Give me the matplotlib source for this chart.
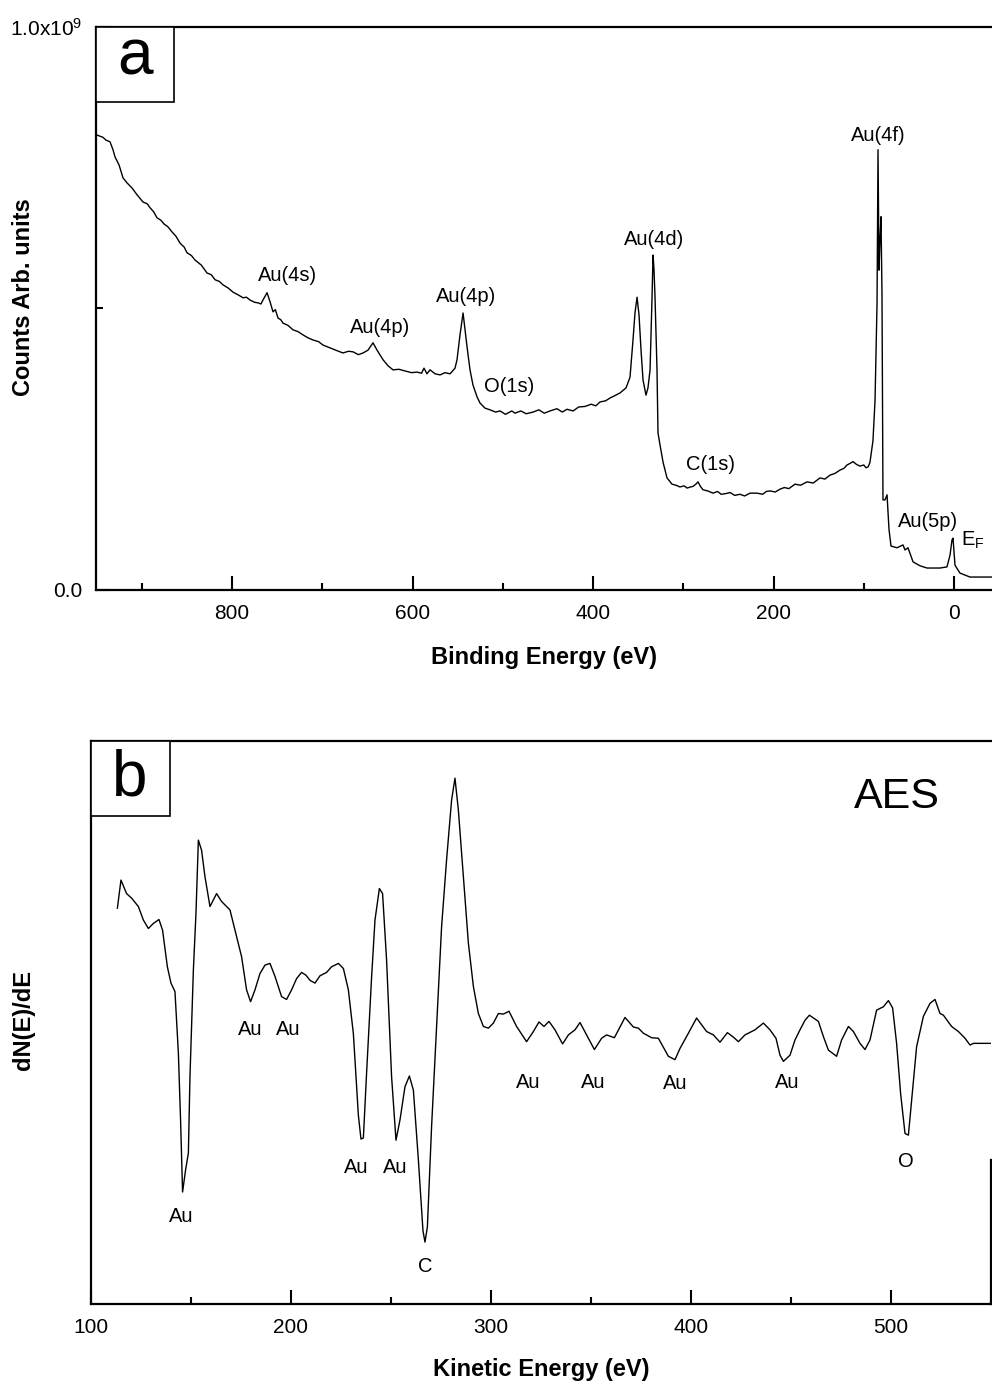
import matplotlib
matplotlib.use('Agg')
import matplotlib.pyplot as plt
import matplotlib.ticker as ticker
from matplotlib.patches import Rectangle
import numpy as np

plt.rcParams['font.family'] = ['Liberation Sans', 'DejaVu Sans']
plt.rcParams['mathtext.default'] = 'regular'

# --- panel a: XPS survey (binding energy in eV, counts in units of 1e9)
xps_be = [949.6, 946.3, 943.0, 939.6, 935.2, 931.9, 929.6, 925.2, 920.8, 916.3,
          910.8, 905.3, 898.6, 894.0, 890.9, 887.0, 883.1, 879.0, 875.3, 871.0,
          866.5, 862.0, 857.6, 853.0, 849.9, 845.0, 841.0, 834.0, 827.7, 823.0,
          818.8, 814.0, 810.0, 804.0, 798.9, 793.0, 787.8, 784.0, 780.1, 775.0,
          771.2, 768.0, 765.7, 761.2, 757.9, 754.6, 752.0, 749.0, 746.0, 743.5,
          738.0, 732.4, 727.0, 721.3, 716.0, 710.2, 704.0, 699.2, 693.0, 688.1,
          682.0, 677.0, 671.0, 665.9, 660.0, 654.8, 649.3, 643.8, 639.3, 632.7,
          627.0, 621.6, 615.0, 608.3, 601.0, 595.0, 590.0, 587.3, 584.0, 580.6,
          575.0, 569.5, 564.0, 558.4, 552.9, 550.7, 547.4, 544.0, 541.8, 539.6,
          536.3, 533.0, 528.5, 525.2, 519.7, 514.1, 508.0, 503.0, 497.0, 490.0,
          486.4, 480.0, 474.0, 466.5, 460.0, 454.0, 447.6, 440.0, 434.0, 428.8,
          422.0, 416.0, 408.9, 402.0, 397.0, 392.2, 386.0, 381.2, 376.0, 370.1,
          363.4, 359.0, 355.7, 353.5, 351.2, 349.0, 346.8, 344.6, 341.3, 339.1,
          336.8, 334.6, 333.5, 332.4, 331.3, 329.1, 328.0, 325.8, 322.4, 318.0,
          312.5, 308.0, 303.6, 299.0, 295.8, 292.0, 289.2, 286.0, 283.7, 281.0,
          278.1, 273.0, 267.0, 262.0, 258.0, 253.7, 248.0, 243.0, 237.1, 232.0,
          226.0, 218.3, 212.0, 208.0, 203.9, 198.0, 192.9, 188.0, 183.0, 176.2,
          170.0, 162.9, 156.0, 148.5, 143.0, 137.4, 132.0, 126.3, 122.0, 118.6,
          115.0, 111.9, 108.0, 104.2, 100.0, 97.5, 95.0, 93.1, 89.8, 87.5,
          85.3, 84.2, 83.1, 82.0, 80.9, 79.8, 78.7, 76.5, 74.2, 72.0,
          69.8, 63.2, 56.5, 54.3, 51.0, 45.4, 37.7, 29.9, 15.5, 7.8,
          4.4, 2.2, 1.1, -1.1, -6.6, -17.7, -28.8, -42.1]
xps_counts = [0.808, 0.806, 0.804, 0.799, 0.796, 0.782, 0.769, 0.755, 0.732, 0.723,
              0.714, 0.702, 0.689, 0.686, 0.679, 0.672, 0.661, 0.657, 0.650, 0.645,
              0.636, 0.628, 0.616, 0.609, 0.599, 0.594, 0.586, 0.577, 0.563, 0.560,
              0.551, 0.548, 0.542, 0.536, 0.529, 0.524, 0.519, 0.520, 0.515, 0.511,
              0.510, 0.508, 0.515, 0.528, 0.512, 0.494, 0.498, 0.483, 0.480, 0.474,
              0.470, 0.462, 0.459, 0.453, 0.448, 0.444, 0.441, 0.435, 0.431, 0.428,
              0.424, 0.421, 0.424, 0.423, 0.418, 0.421, 0.426, 0.439, 0.426, 0.409,
              0.398, 0.391, 0.392, 0.389, 0.386, 0.387, 0.385, 0.394, 0.384, 0.391,
              0.384, 0.382, 0.386, 0.384, 0.394, 0.409, 0.453, 0.492, 0.462, 0.432,
              0.391, 0.364, 0.343, 0.332, 0.323, 0.320, 0.316, 0.318, 0.312, 0.318,
              0.314, 0.318, 0.313, 0.316, 0.320, 0.314, 0.318, 0.322, 0.316, 0.321,
              0.318, 0.325, 0.326, 0.330, 0.327, 0.334, 0.336, 0.341, 0.345, 0.350,
              0.359, 0.378, 0.444, 0.492, 0.520, 0.488, 0.426, 0.373, 0.346, 0.359,
              0.391, 0.520, 0.595, 0.568, 0.520, 0.391, 0.279, 0.258, 0.227, 0.199,
              0.188, 0.186, 0.183, 0.185, 0.181, 0.183, 0.184, 0.188, 0.192, 0.184,
              0.178, 0.176, 0.172, 0.175, 0.170, 0.171, 0.173, 0.168, 0.170, 0.167,
              0.172, 0.172, 0.170, 0.175, 0.176, 0.174, 0.179, 0.182, 0.180, 0.188,
              0.186, 0.192, 0.190, 0.199, 0.197, 0.204, 0.207, 0.213, 0.216, 0.222,
              0.225, 0.228, 0.223, 0.220, 0.222, 0.217, 0.219, 0.227, 0.265, 0.337,
              0.508, 0.782, 0.568, 0.622, 0.663, 0.526, 0.160, 0.160, 0.169, 0.107,
              0.078, 0.075, 0.080, 0.071, 0.075, 0.050, 0.043, 0.039, 0.039, 0.041,
              0.062, 0.089, 0.092, 0.044, 0.030, 0.023, 0.023, 0.023]

xps_labels = ['Au(4s)', 'Au(4p)', 'Au(4p)', 'O(1s)', 'Au(4d)', 'C(1s)', 'Au(4f)', 'Au(5p)', 'E$_F$']
xps_label_x = [739, 636, 540.7, 493, 332.4, 270, 84, 28.8, -21]
xps_label_y = [0.558, 0.467, 0.522, 0.361, 0.622, 0.222, 0.808, 0.121, 0.089]

# --- panel b: AES derivative spectrum (kinetic energy in eV, arb. units)
aes_ke = [113.2, 115.0, 117.8, 120.3, 123.7, 126.2, 128.7, 131.2, 134.0, 135.8,
          138.2, 140.0, 142.0, 143.7, 144.8, 145.8, 147.3, 148.7, 149.5, 151.2,
          152.5, 153.7, 155.3, 157.0, 159.5, 162.8, 165.3, 169.5, 172.8, 175.3,
          177.8, 179.8, 182.0, 184.5, 187.0, 189.5, 192.0, 195.3, 197.8, 200.3,
          202.8, 205.3, 207.5, 209.5, 212.0, 214.5, 217.8, 220.3, 223.7, 226.2,
          228.7, 231.2, 233.7, 235.0, 236.2, 237.8, 240.3, 242.0, 244.2, 245.8,
          247.8, 250.3, 252.5, 254.5, 257.0, 259.2, 261.2, 263.7, 266.0, 267.0,
          268.2, 270.3, 272.8, 275.3, 277.8, 280.3, 282.0, 283.7, 286.2, 288.7,
          291.2, 293.7, 296.2, 298.7, 301.2, 303.7, 306.2, 309.0, 312.8, 317.8,
          321.2, 324.0, 326.5, 329.0, 332.0, 335.8, 338.7, 342.0, 344.5, 347.8,
          351.7, 355.3, 357.8, 361.7, 364.2, 367.0, 371.2, 373.7, 376.2, 380.3,
          383.7, 388.7, 392.0, 394.5, 398.7, 402.8, 407.8, 411.2, 414.5, 418.2,
          421.2, 423.7, 427.0, 432.0, 436.2, 439.5, 442.5, 444.5, 446.2, 449.5,
          452.0, 454.5, 457.0, 459.2, 463.7, 466.2, 468.7, 472.8, 475.3, 478.7,
          481.2, 484.5, 487.0, 489.5, 492.8, 496.2, 498.7, 500.8, 502.8, 504.8,
          507.0, 508.7, 510.3, 512.8, 516.2, 519.5, 522.0, 524.5, 526.2, 530.3,
          533.7, 537.0, 539.5, 541.2, 550.5]
aes_dnde = [0.703, 0.753, 0.729, 0.721, 0.706, 0.682, 0.667, 0.676, 0.683, 0.664,
            0.599, 0.570, 0.555, 0.446, 0.327, 0.199, 0.238, 0.268, 0.404, 0.593,
            0.694, 0.824, 0.806, 0.759, 0.706, 0.729, 0.715, 0.700, 0.653, 0.617,
            0.558, 0.537, 0.558, 0.587, 0.602, 0.605, 0.582, 0.546, 0.541, 0.558,
            0.578, 0.589, 0.584, 0.575, 0.570, 0.583, 0.589, 0.599, 0.605, 0.596,
            0.558, 0.480, 0.335, 0.293, 0.295, 0.410, 0.580, 0.682, 0.738, 0.729,
            0.611, 0.404, 0.291, 0.327, 0.386, 0.405, 0.380, 0.256, 0.130, 0.110,
            0.137, 0.315, 0.493, 0.670, 0.789, 0.895, 0.934, 0.877, 0.759, 0.641,
            0.564, 0.516, 0.493, 0.490, 0.499, 0.516, 0.515, 0.520, 0.493, 0.466,
            0.484, 0.501, 0.493, 0.502, 0.487, 0.462, 0.478, 0.487, 0.500, 0.478,
            0.452, 0.472, 0.478, 0.473, 0.490, 0.509, 0.492, 0.490, 0.481, 0.473,
            0.472, 0.440, 0.434, 0.454, 0.481, 0.508, 0.484, 0.478, 0.465, 0.482,
            0.474, 0.466, 0.478, 0.487, 0.499, 0.487, 0.472, 0.442, 0.431, 0.442,
            0.469, 0.487, 0.504, 0.513, 0.502, 0.475, 0.451, 0.440, 0.469, 0.493,
            0.484, 0.463, 0.452, 0.469, 0.522, 0.528, 0.539, 0.526, 0.463, 0.374,
            0.303, 0.300, 0.362, 0.457, 0.511, 0.534, 0.541, 0.516, 0.513, 0.493,
            0.484, 0.472, 0.460, 0.463, 0.463]

aes_labels = ['Au', 'Au', 'Au', 'Au', 'Au', 'C', 'Au', 'Au', 'Au', 'Au', 'O']
aes_label_x = [145, 179.5, 198.5, 232.5, 252, 267, 318.5, 351, 392, 448, 507.5]
aes_label_y = [0.155, 0.487, 0.487, 0.242, 0.242, 0.066, 0.394, 0.394, 0.391, 0.393, 0.254]

fig = plt.figure(figsize=(9.92, 13.83), dpi=100)

# ---------------- panel a
ax1 = fig.add_axes([0.0968, 0.5734, 0.9032, 0.4071])
ax1.plot(xps_be, np.array(xps_counts) * 1e9, color='black', lw=1.0)
ax1.set_xlim(950.7, -42.1)
ax1.set_ylim(0, 1e9)
ax1.xaxis.set_major_locator(ticker.MultipleLocator(200))
ax1.xaxis.set_minor_locator(ticker.MultipleLocator(100))
ax1.yaxis.set_major_locator(ticker.FixedLocator([0, 1e9]))
ax1.yaxis.set_minor_locator(ticker.FixedLocator([0.5e9]))
ax1.set_yticklabels(['0.0', '1.0x10$^9$'])
ax1.spines['right'].set_visible(False)
for s in ax1.spines.values():
    s.set_linewidth(1.6)
ax1.tick_params(which='both', direction='in', top=False, right=False, labelsize=15, pad=10, width=1.5)
ax1.tick_params(which='major', length=10)
ax1.tick_params(which='minor', length=5)
ax1.set_xlabel('Binding Energy (eV)', fontsize=17, fontweight='bold', labelpad=17)
ax1.set_ylabel('Counts Arb. units', fontsize=17, fontweight='bold')
ax1.yaxis.set_label_coords(-0.068, 0.52)
for lab, lx, ly in zip(xps_labels, xps_label_x, xps_label_y):
    ax1.text(lx, ly * 1e9, lab, fontsize=14.5, ha='center', va='center')
ax1.add_patch(Rectangle((0, 1 - 0.133), 0.087, 0.133, transform=ax1.transAxes,
                        fc='white', ec='black', lw=1.2, clip_on=False, zorder=3))
ax1.text(0.0435, 0.945, 'a', transform=ax1.transAxes, fontsize=46,
         ha='center', va='center', zorder=4)

# ---------------- panel b
ax2 = fig.add_axes([0.0917, 0.0571, 0.9073, 0.4071])
ax2.plot(aes_ke, aes_dnde, color='black', lw=1.0)
ax2.set_xlim(100, 550)
ax2.set_ylim(0, 1)
ax2.xaxis.set_major_locator(ticker.MultipleLocator(100))
ax2.xaxis.set_minor_locator(ticker.MultipleLocator(50))
ax2.set_yticks([])
for s in ax2.spines.values():
    s.set_linewidth(1.6)
ax2.spines['right'].set_bounds(0, 0.256)
ax2.tick_params(which='both', direction='in', top=False, right=False, labelsize=15, pad=10, width=1.5)
ax2.tick_params(which='major', length=10)
ax2.tick_params(which='minor', length=5)
ax2.set_xlabel('Kinetic Energy (eV)', fontsize=17, fontweight='bold', labelpad=15)
ax2.set_ylabel('dN(E)/dE', fontsize=17, fontweight='bold')
ax2.yaxis.set_label_coords(-0.062, 0.504)
for lab, lx, ly in zip(aes_labels, aes_label_x, aes_label_y):
    ax2.text(lx, ly, lab, fontsize=14.5, ha='center', va='center')
ax2.text(503, 0.900, 'AES', fontsize=31, ha='center', va='center')
ax2.add_patch(Rectangle((0, 1 - 0.133), 0.088, 0.133, transform=ax2.transAxes,
                        fc='white', ec='black', lw=1.2, clip_on=False, zorder=3))
ax2.text(0.043, 0.934, 'b', transform=ax2.transAxes, fontsize=46,
         ha='center', va='center', zorder=4)

fig.savefig('out.png', dpi=100)
